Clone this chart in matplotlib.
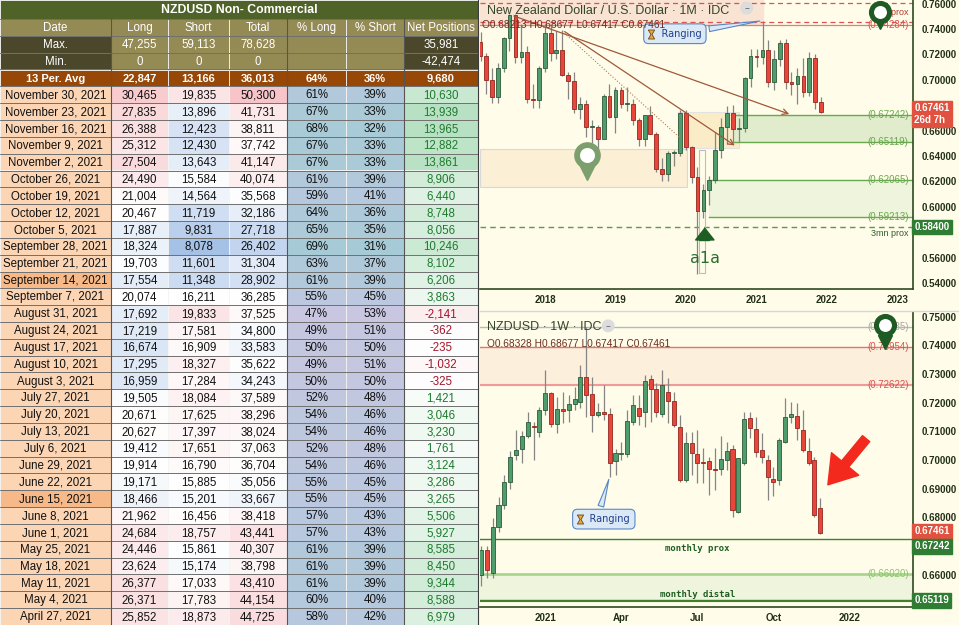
import matplotlib
matplotlib.use('Agg')
import matplotlib.pyplot as plt
import matplotlib.dates as mdates
import matplotlib.transforms as mtrans
from matplotlib.patches import Rectangle, FancyArrowPatch
from matplotlib.lines import Line2D
from matplotlib.colors import to_rgb
import numpy as np
import pandas as pd

# ---------------- TABLE DATA ----------------
table_title = "NZDUSD Non- Commercial"
headers = ["Date", "Long", "Short", "Total", "% Long", "% Short", "Net Positions"]
max_row = ["Max.", "47,255", "59,113", "78,628", "", "", "35,981"]
min_row = ["Min.", "0", "0", "0", "", "", "-42,474"]
avg_row = ["13 Per. Avg", "22,847", "13,166", "36,013", "64%", "36%", "9,680"]
dates = ["November 30, 2021", "November 23, 2021", "November 16, 2021", "November 9, 2021",
         "November 2, 2021", "October 26, 2021", "October 19, 2021", "October 12, 2021",
         "October 5, 2021", "September 28, 2021", "September 21, 2021", "September 14, 2021",
         "September 7, 2021", "August 31, 2021", "August 24, 2021", "August 17, 2021",
         "August 10, 2021", "August 3, 2021", "July 27, 2021", "July 20, 2021",
         "July 13, 2021", "July 6, 2021", "June 29, 2021", "June 22, 2021",
         "June 15, 2021", "June 8, 2021", "June 1, 2021", "May 25, 2021",
         "May 18, 2021", "May 11, 2021", "May 4, 2021", "April 27, 2021"]
longs = [30465, 27835, 26388, 25312, 27504, 24490, 21004, 20467, 17887, 18324, 19703, 17554,
         20074, 17692, 17219, 16674, 17295, 16959, 19505, 20671, 20627, 19412, 19914, 19171,
         18466, 21962, 24684, 24446, 23624, 26377, 26371, 25852]
shorts = [19835, 13896, 12423, 12430, 13643, 15584, 14564, 11719, 9831, 8078, 11601, 11348,
          16211, 19833, 17581, 16909, 18327, 17284, 18084, 17625, 17397, 17651, 16790, 15885,
          15201, 16456, 18757, 15861, 15174, 17033, 17783, 18873]
totals = [50300, 41731, 38811, 37742, 41147, 40074, 35568, 32186, 27718, 26402, 31304, 28902,
          36285, 37525, 34800, 33583, 35622, 34243, 37589, 38296, 38024, 37063, 36704, 35056,
          33667, 38418, 43441, 40307, 38798, 43410, 44154, 44725]
pct_long = [61, 67, 68, 67, 67, 61, 59, 64, 65, 69, 63, 61, 55, 47, 49, 50, 49, 50, 52, 54,
            54, 52, 54, 55, 55, 57, 57, 61, 61, 61, 60, 58]
pct_short = [39, 33, 32, 33, 33, 39, 41, 36, 35, 31, 37, 39, 45, 53, 51, 50, 51, 50, 48, 46,
             46, 48, 46, 45, 45, 43, 43, 39, 39, 39, 40, 42]
net = [10630, 13939, 13965, 12882, 13861, 8906, 6440, 8748, 8056, 10246, 8102, 6206, 3863,
       -2141, -362, -235, -1032, -325, 1421, 3046, 3230, 1761, 3124, 3286, 3265, 5506, 5927,
       8585, 8450, 9344, 8588, 6979]

# ---------------- MONTHLY NZDUSD (Feb 2017 - Dec 2021) ----------------
m_open = [.7300, .7190, .7000, .6860, .7090, .7330, .7510, .7180, .7220, .6850, .6840,
          .7090, .7370, .7210, .7230, .7040, .6990, .6770, .6810, .6630, .6630, .6530, .6870,
          .6710, .6920, .6810, .6810, .6680, .6530, .6720, .6570, .6300, .6260, .6420, .6420,
          .6740, .6470, .6230, .5970, .6130, .6210, .6450, .6630, .6740, .6610, .6620, .7010,
          .7190, .7180, .7230, .6980, .7160, .7290, .6980, .6970, .7030, .6900, .7170, .68213]
m_high = [.7376, .7210, .7090, .7130, .7340, .7520, .7520, .7435, .7265, .6965, .7110,
          .7437, .7425, .7380, .7394, .7060, .7060, .6860, .6840, .6680, .6640, .6890, .6970,
          .6940, .6940, .6940, .6850, .6700, .6725, .6790, .6590, .6380, .6440, .6450, .6760,
          .6760, .6480, .6310, .6180, .6240, .6590, .6700, .6790, .6800, .6700, .7020, .7240,
          .7240, .7465, .7310, .7230, .7310, .7320, .7060, .7090, .7170, .7220, .7200, .68677]
m_low = [.7150, .6890, .6818, .6818, .7060, .7225, .7130, .7130, .6817, .6780, .6780,
         .7060, .7150, .7160, .7030, .6850, .6740, .6690, .6550, .6500, .6425, .6530, .6700,
         .6580, .6780, .6750, .6640, .6480, .6480, .6570, .6270, .6200, .6200, .6320, .6400,
         .6450, .6190, .5470, .5910, .6010, .6190, .6380, .6490, .6510, .6510, .6590, .6940,
         .7100, .7120, .6940, .6920, .7110, .6925, .6880, .6810, .6860, .6870, .6770, .67417]
m_close = [.7190, .7000, .6860, .7090, .7330, .7510, .7180, .7220, .6850, .6840, .7090,
           .7370, .7210, .7230, .7040, .6990, .6770, .6810, .6630, .6630, .6530, .6870, .6710,
           .6920, .6810, .6810, .6680, .6530, .6720, .6570, .6300, .6260, .6420, .6420, .6740,
           .6470, .6230, .5970, .6130, .6210, .6450, .6630, .6740, .6610, .6620, .7010, .7190,
           .7180, .7230, .6980, .7160, .7290, .6980, .6970, .7030, .6900, .7170, .6821, .67461]
m_dates = pd.date_range('2017-02-01', periods=len(m_open), freq='MS')

# ---------------- WEEKLY NZDUSD (Oct 19 2020 - Nov 29 2021) ----------------
w_open = [.6600, .6685, .6605, .6768, .6843, .6924, .7019, .7040, .7083, .7120, .7098,
          .7174, .7232, .7125, .7177, .7174, .7195, .7203, .7290, .7230, .7156, .7168, .7160,
          .6997, .7021, .7021, .7133, .7180, .7168, .7281, .7246, .7162, .7238, .7207, .7116,
          .6931, .7058, .7021, .6991, .6997, .6968, .6968, .7000, .7039, .6820, .6989, .7148,
          .7107, .7035, .7000, .6933, .6931, .7064, .7149, .7154, .7105, .7032, .7000, .68328]
w_high = [.6700, .6700, .6797, .6870, .6947, .7030, .7104, .7100, .7168, .7133, .7185,
          .7313, .7238, .7220, .7238, .7226, .7255, .7331, .7465, .7290, .7197, .7261, .7180,
          .7040, .7064, .7174, .7226, .7226, .7296, .7296, .7267, .7313, .7284, .7238, .7157,
          .7099, .7099, .7105, .7041, .7012, .7041, .7082, .7064, .7053, .7006, .7169, .7169,
          .7151, .7093, .7018, .6977, .7076, .7215, .7203, .7197, .7174, .7076, .7012, .68677]
w_low = [.6560, .6590, .6588, .6750, .6830, .6900, .7000, .6990, .7075, .7000, .7081,
         .7157, .7116, .7095, .7128, .7133, .7174, .7180, .7150, .7098, .7150, .7139, .6942,
         .6948, .7000, .7011, .7122, .7122, .7116, .7133, .7151, .7151, .7128, .7116, .6925,
         .6925, .6948, .6919, .6919, .6878, .6896, .6948, .6966, .6803, .6815, .6983, .7076,
         .7012, .6989, .6861, .6873, .6913, .7058, .7128, .7070, .7029, .6983, .6803, .67417]
w_close = [.6685, .6617, .6768, .6843, .6924, .7011, .7035, .7083, .7131, .7116, .7174,
           .7232, .7125, .7176, .7171, .7195, .7211, .7290, .7226, .7156, .7168, .7160, .6990,
           .7023, .7022, .7136, .7191, .7154, .7276, .7246, .7168, .7261, .7206, .7122, .6931,
           .7058, .7024, .6991, .6989, .6968, .6964, .7003, .7033, .6826, .7006, .7142, .7111,
           .7029, .7010, .6940, .6925, .7068, .7149, .7161, .7113, .7035, .6989, .6809, .67461]
w_dates = pd.date_range('2020-10-19', periods=len(w_open), freq='7D')

# ---------------- FIGURE ----------------
W, H = 959, 625
CREAM = '#fffde9'
fig = plt.figure(figsize=(W / 100, H / 100), dpi=100)
fig.patch.set_facecolor(CREAM)
FONT = 'Liberation Sans'


def lerp(c1, c2, t):
    t = float(np.clip(t, 0, 1))
    a, b = np.array(to_rgb(c1)), np.array(to_rgb(c2))
    return tuple(a + (b - a) * t)


def scale3(v, lo, mid, hi, clo, cmid, chi):
    if v < mid:
        return lerp(cmid, clo, (mid - v) / (mid - lo))
    return lerp(cmid, chi, (v - mid) / (hi - mid))


BLUE, WHITE, PINK = '#8fb1e0', '#ffffff', '#f19ea4'

# ---------------- TABLE ----------------
axt = fig.add_axes([0, 0, 480 / W, 1])
axt.set_xlim(0, 480)
axt.set_ylim(625, 0)
axt.axis('off')
col_w = [111, 57, 61, 58, 59, 58, 74]
col_x = np.concatenate([[0], np.cumsum(col_w)])
row_h = [19] + [(625 - 19) / 36] * 36
row_y = np.concatenate([[0], np.cumsum(row_h)])


def cell(r, c0, c1, fc, text, tc, bold=False, fs=8.3):
    x0, x1 = col_x[c0], col_x[c1]
    y0, y1 = row_y[r], row_y[r + 1]
    axt.add_patch(Rectangle((x0, y0), x1 - x0, y1 - y0, fc=fc, ec='#f4f4f4', lw=0.6))
    axt.text((x0 + x1) / 2, (y0 + y1) / 2 + 0.6, text, ha='center', va='center', color=tc,
             fontsize=fs, fontweight='bold' if bold else 'normal', family=FONT)


cell(0, 0, 7, '#4f6228', table_title, 'white', bold=True, fs=8.8)
for j, h in enumerate(headers):
    cell(1, j, j + 1, '#948a54', h, 'white', fs=8.3)
for r, row in ((2, max_row), (3, min_row)):
    for j, v in enumerate(row):
        fc = '#4b472a' if j in (0, 6) else '#948a54'
        cell(r, j, j + 1, fc, v, 'white', fs=8.3)
for j, v in enumerate(avg_row):
    cell(4, j, j + 1, '#974706', v, 'white', bold=True, fs=8.0)

dark_dates = {"September 14, 2021", "June 15, 2021"}
for i in range(len(dates)):
    r = 5 + i
    dc = '#f7b987' if dates[i] in dark_dates else '#fcd5b4'
    cell(r, 0, 1, dc, dates[i], '#111111')
    cell(r, 1, 2, scale3(longs[i], 10000, 20000, 40000, BLUE, WHITE, PINK), f"{longs[i]:,}", '#111111')
    cell(r, 2, 3, scale3(shorts[i], 6000, 16000, 30000, BLUE, WHITE, PINK), f"{shorts[i]:,}", '#111111')
    cell(r, 3, 4, scale3(totals[i], 18000, 36000, 60000, BLUE, WHITE, PINK), f"{totals[i]:,}", '#111111')
    cell(r, 4, 5, scale3(pct_long[i], 45, 57, 70, '#cbc6e0', '#b8c8df', '#a6cbd5'), f"{pct_long[i]}%", '#111111')
    cell(r, 5, 6, scale3(100 - pct_short[i], 45, 57, 70, '#cbc6e0', '#b8c8df', '#a6cbd5'), f"{pct_short[i]}%", '#111111')
    if net[i] >= 0:
        nfc, ntc = lerp('#ffffff', '#b3dfbf', net[i] / 15000), '#1f7a2e'
    else:
        nfc, ntc = lerp('#ffffff', '#f6dfe2', -net[i] / 4000), '#a3162b'
    cell(r, 6, 7, nfc, f"{net[i]:,}", ntc)

for yb in row_y[1:]:
    axt.plot([0, 478], [yb, yb], color='#3c3c3c', lw=0.5)
for xb in (col_x[1], col_x[4], col_x[6]):
    axt.plot([xb, xb], [row_y[1], 625], color='#555555', lw=0.8)
axt.plot([478, 478], [0, 625], color='#3c3c3c', lw=0.8)


# ---------------- HELPERS ----------------
def candles(ax, dts, o, h, l, c, width, minh):
    x = mdates.date2num(dts)
    o, h, l, c = map(np.asarray, (o, h, l, c))
    ax.vlines(x, l, h, color='#858585', lw=0.9, zorder=3)
    lo = np.minimum(o, c)
    hh = np.maximum(np.abs(c - o), minh)
    up = c >= o
    ax.bar(x[up], hh[up], width, bottom=lo[up], color='#4f9d6c', edgecolor='#2d5a3a', lw=0.6, zorder=4)
    ax.bar(x[~up], hh[~up], width, bottom=lo[~up], color='#e8463b', edgecolor='#94271f', lw=0.6, zorder=4)


def style_axis(ax):
    ax.set_facecolor(CREAM)
    for s in ('left', 'top'):
        ax.spines[s].set_visible(False)
    for s in ('right', 'bottom'):
        ax.spines[s].set_color('#2d4a20')
        ax.spines[s].set_linewidth(1.2)
    ax.yaxis.tick_right()
    ax.tick_params(length=0, labelsize=7, labelcolor='#22301a')
    ax.tick_params(axis='y', pad=6)
    ax.tick_params(axis='x', pad=4)
    for t in ax.get_xticklabels() + ax.get_yticklabels():
        t.set_fontweight('bold')
        t.set_family(FONT)


def dn(s):
    return mdates.date2num(pd.Timestamp(s))


def right_box(ax, y, text, fc, fs=7):
    ax.text(1.003, y, text, transform=mtrans.blended_transform_factory(ax.transAxes, ax.transData),
            ha='left', va='center', color='white', fontsize=fs, fontweight='bold', family=FONT,
            bbox=dict(boxstyle='square,pad=0.25', fc=fc, ec=fc), zorder=20, clip_on=False,
            linespacing=1.25)


def lvl_label(ax, y, text, color, fs=7):
    ax.text(0.99, y, text, transform=mtrans.blended_transform_factory(ax.transAxes, ax.transData),
            ha='right', va='center', color=color, fontsize=fs, family=FONT, zorder=6)


def pin(ax, x, yc, ytip, color, ms):
    ax.plot([x], [ytip], marker='v', ms=ms * 0.75, color=color, zorder=12, clip_on=False)
    ax.plot([x], [yc], marker='o', ms=ms, mfc='white', mec=color, mew=ms * 0.28, zorder=13, clip_on=False)


def price_ticks(ax, ticks, hidden):
    shown = [t for t in ticks if all(abs(t - hv) > 1e-6 for hv in hidden)]
    ax.set_yticks(shown)
    ax.set_yticklabels([f'{t:.5f}' for t in shown])


HOURGLASS = [(-0.7, 1), (0.7, 1), (0.12, 0), (0.7, -1), (-0.7, -1), (-0.12, 0), (-0.7, 1)]


def ranging_callout(ax, tip, box_xy, relpos):
    ax.annotate('    Ranging', xy=tip, xytext=box_xy, ha='center', va='center', fontsize=7,
                color='#1f3f8c', family='DejaVu Sans',
                bbox=dict(boxstyle='round,pad=0.5', fc='#dbe9f7', ec='#5a86c5', lw=0.8),
                arrowprops=dict(arrowstyle='wedge,tail_width=0.6,shrink_factor=0.5', fc='#dbe9f7',
                                ec='#5a86c5', lw=0.8, relpos=relpos), zorder=9)
    tr = mtrans.offset_copy(ax.transData, fig=fig, x=-17, y=0, units='points')
    ax.plot([box_xy[0]], [box_xy[1]], marker=HOURGLASS, ms=6.5, mfc='#e9a93a', mec='#6a4a1a',
            mew=0.6, transform=tr, zorder=10, clip_on=False)


# ---------------- TOP CHART (monthly) ----------------
ax1 = fig.add_axes([480 / W, (625 - 289) / H, 433 / W, 289 / H])
ppd1 = 70.5 / 365.25
x18 = dn('2018-01-01')
ax1.set_xlim(x18 - 65 / ppd1, x18 + 368 / ppd1)
ax1.set_ylim(0.53520, 0.76276)

ax1.axhspan(0.74284, 0.7640, xmin=0, xmax=0.654, color='#f9e3d3', zorder=1)
ax1.axhline(0.7605, color='#d9534f', lw=0.9, ls=(0, (4, 3)), zorder=2)
ax1.axhline(0.7453, color='#d9534f', lw=0.9, ls=(0, (4, 3)), zorder=2)
ax1.axhline(0.74284, color='#e08070', lw=0.9, zorder=2)
lvl_label(ax1, 0.74284, '(0.74284)', '#d9534f')
lvl_label(ax1, 0.7528, '3mn prox', '#b03a2e', fs=6.5)

ax1.add_patch(Rectangle((ax1.get_xlim()[0], 0.6155), dn('2020-01-06') - ax1.get_xlim()[0], 0.6454 - 0.6155,
                        fc='#fbf0d5', ec='#d8d8d8', lw=0.8, zorder=1))
ax1.add_patch(Rectangle((dn('2019-11-20'), 0.6459), dn('2020-10-01') - dn('2019-11-20'), 0.6745 - 0.6459,
                        fc='#fbecc8', ec='#e2e2e2', lw=0.8, zorder=1))
xr = ax1.get_xlim()[1]
z1 = mdates.date2num(m_dates[43])
ax1.add_patch(Rectangle((z1, 0.65119), xr - z1, 0.67242 - 0.65119, fc='#e0eccc', ec='none', zorder=1))
ax1.plot([z1, xr], [0.67242, 0.67242], color='#6aa84f', lw=1, zorder=2)
ax1.plot([z1, xr], [0.65119, 0.65119], color='#6aa84f', lw=1, zorder=2)
z2 = mdates.date2num(m_dates[39])
ax1.add_patch(Rectangle((z2, 0.59213), xr - z2, 0.62065 - 0.59213, fc='#eff5dc', ec='none', zorder=1))
ax1.plot([z2, xr], [0.62065, 0.62065], color='#6aa84f', lw=1, zorder=2)
ax1.plot([z2, xr], [0.59213, 0.59213], color='#6aa84f', lw=1, zorder=2)
for v in (0.67242, 0.65119, 0.62065, 0.59213):
    lvl_label(ax1, v, f'({v:.5f})', '#6aa84f')
ax1.axhline(0.584, color='#5a9a4a', lw=1, ls=(0, (4, 3)), zorder=2)
lvl_label(ax1, 0.5792, '3mn prox', '#2d5e2d', fs=6.5)

ax1.add_patch(Rectangle((dn('2020-03-08'), 0.5478), dn('2020-04-10') - dn('2020-03-08'), 0.6447 - 0.5478,
                        fc='none', ec='#bdbdbd', lw=0.8, zorder=2))

ax1.annotate('', xy=(dn('2021-07-03'), 0.6722), xytext=(dn('2017-07-10'), 0.7509),
             arrowprops=dict(arrowstyle='->', color='#a0583a', lw=0.9), zorder=5)
ax1.annotate('', xy=(dn('2020-09-22'), 0.6470), xytext=(dn('2018-04-01'), 0.7391),
             arrowprops=dict(arrowstyle='->', color='#a0583a', lw=0.9), zorder=5)
ax1.plot([dn('2018-04-01'), dn('2019-12-01')], [0.7380, 0.6543], color='#b07a5a', lw=0.8, ls=':', zorder=5)

candles(ax1, m_dates, m_open, m_high, m_low, m_close, 20, 0.0007)

ax1.annotate('', xy=(dn('2020-04-08'), 0.5852), xytext=(dn('2020-04-08'), 0.5712),
             arrowprops=dict(arrowstyle='simple,head_width=1.1,head_length=0.7,tail_width=0.55',
                             fc='#1d5e22', ec='#1d5e22', mutation_scale=12), zorder=8)
ax1.text(dn('2020-04-08'), 0.5596, 'a1a', ha='center', va='center', fontsize=11.5,
         color='#2a6b2e', family='DejaVu Sans', zorder=8)

pin(ax1, dn('2022-10-02'), 0.7535, 0.7452, '#1e5a23', 13)
pin(ax1, dn('2018-08-07'), 0.6410, 0.6270, '#7d9f6d', 15)

ranging_callout(ax1, (mdates.date2num(m_dates[48]), m_high[48]), (dn('2019-11-05'), 0.7362), (0.9, 0.8))

ax1.text(0.016, 0.963, 'New Zealand Dollar / U.S. Dollar · 1M · IDC', transform=ax1.transAxes,
         fontsize=9, color='#34452a', family=FONT, va='center', zorder=10)
ax1.text(0.005, 0.912, 'O0.68213 H0.68677 L0.67417 C0.67461', transform=ax1.transAxes,
         fontsize=7.3, color='#6a2f20', family=FONT, va='center', zorder=10)
ax1.text(0.616, 0.972, '–', transform=ax1.transAxes, fontsize=7, color='#666666', ha='center',
         va='center', bbox=dict(boxstyle='circle,pad=0.15', fc='#dcdcdc', ec='none'), zorder=10)

price_ticks(ax1, [round(0.54 + 0.02 * i, 2) for i in range(12)], hidden=[0.58, 0.68])
ax1.set_xticks([dn(f'{y}-01-01') for y in range(2018, 2024)])
ax1.set_xticklabels([str(y) for y in range(2018, 2024)])
style_axis(ax1)
right_box(ax1, 0.6730, '0.67461\n26d 7h', '#e0513f', fs=7)
right_box(ax1, 0.5840, '0.58400', '#2e7d32', fs=7)

# ---------------- BOTTOM CHART (weekly) ----------------
ax2 = fig.add_axes([480 / W, (625 - 607) / H, 433 / W, 295 / H])
ppd2 = 5.85 / 7
x21 = dn('2021-01-04')
ax2.set_xlim(x21 - 65.3 / ppd2, x21 + 367.7 / ppd2)
ax2.set_ylim(0.64878, 0.75157)

ax2.axhspan(0.72622, 0.73954, color='#fcf0dc', zorder=1)
ax2.axhline(0.74635, color='#b8b8b8', lw=1, zorder=2)
ax2.axhline(0.73954, color='#e57373', lw=1, zorder=2)
ax2.axhline(0.72622, color='#ef9a9a', lw=1.5, zorder=2)
lvl_label(ax2, 0.74635, '(0.74635)', '#a8a8a8')
lvl_label(ax2, 0.73954, '(0.73954)', '#d9534f')
lvl_label(ax2, 0.72622, '(0.72622)', '#d9534f')
ax2.axhspan(0.65119, 0.66020, color='#eef5dc', zorder=1)
ax2.axhline(0.67242, color='#3f7f2e', lw=1, zorder=2)
ax2.axhline(0.66020, color='#a9d58e', lw=2, zorder=2)
ax2.axhline(0.65119, color='#3f7f2e', lw=1, zorder=2)
ax2.axhline(0.65085, color='#3f7f2e', lw=0.8, zorder=2)
lvl_label(ax2, 0.66020, '(0.66020)', '#8cc46f')
ax2.text(dn('2021-07-05'), 0.6693, 'monthly prox', ha='center', va='center', fontsize=6.5,
         color='#1f5e22', fontweight='bold', family='DejaVu Sans Mono', zorder=6)
ax2.text(dn('2021-07-05'), 0.6531, 'monthly distal', ha='center', va='center', fontsize=6.5,
         color='#1f5e22', fontweight='bold', family='DejaVu Sans Mono', zorder=6)

candles(ax2, w_dates, w_open, w_high, w_low, w_close, 4.8, 0.0003)

pin(ax2, dn('2022-02-14'), 0.7472, 0.7412, '#1e5a23', 13)

ax2.add_patch(FancyArrowPatch((dn('2022-01-25'), 0.7082), (dn('2021-12-06'), 0.6906),
                              arrowstyle='simple,head_length=1.3,head_width=1.7,tail_width=0.45',
                              mutation_scale=15, color='#f2291c', zorder=9))

k = 22  # week of Mar 22, 2021
ranging_callout(ax2, (mdates.date2num(w_dates[k]), w_low[k]), (dn('2021-03-15'), 0.6794), (0.4, 1.0))

ax2.text(0.016, 0.949, 'NZDUSD · 1W · IDC', transform=ax2.transAxes, fontsize=9,
         color='#34452a', family=FONT, va='center', zorder=10)
ax2.text(0.016, 0.893, 'O0.68328 H0.68677 L0.67417 C0.67461', transform=ax2.transAxes,
         fontsize=7.3, color='#6a2f20', family=FONT, va='center', zorder=10)
ax2.text(0.296, 0.953, '–', transform=ax2.transAxes, fontsize=7, color='#666666', ha='center',
         va='center', bbox=dict(boxstyle='circle,pad=0.15', fc='#dcdcdc', ec='none'), zorder=10)

price_ticks(ax2, [round(0.65 + 0.01 * i, 2) for i in range(11)], hidden=[0.65, 0.67])
ax2.set_xticks([dn('2021-01-04'), dn('2021-04-05'), dn('2021-07-05'), dn('2021-10-04'), dn('2022-01-03')])
ax2.set_xticklabels(['2021', 'Apr', 'Jul', 'Oct', '2022'])
style_axis(ax2)
right_box(ax2, 0.6752, '0.67461', '#e0513f', fs=7)
right_box(ax2, 0.6700, '0.67242', '#2e7d32', fs=7)
right_box(ax2, 0.65119, '0.65119', '#2e7d32', fs=7)
fig.add_artist(Line2D([480 / W, 1], [(625 - 311) / H] * 2, color='#d6d6d6', lw=1))

fig.savefig('out.png', dpi=100, facecolor=fig.get_facecolor())
